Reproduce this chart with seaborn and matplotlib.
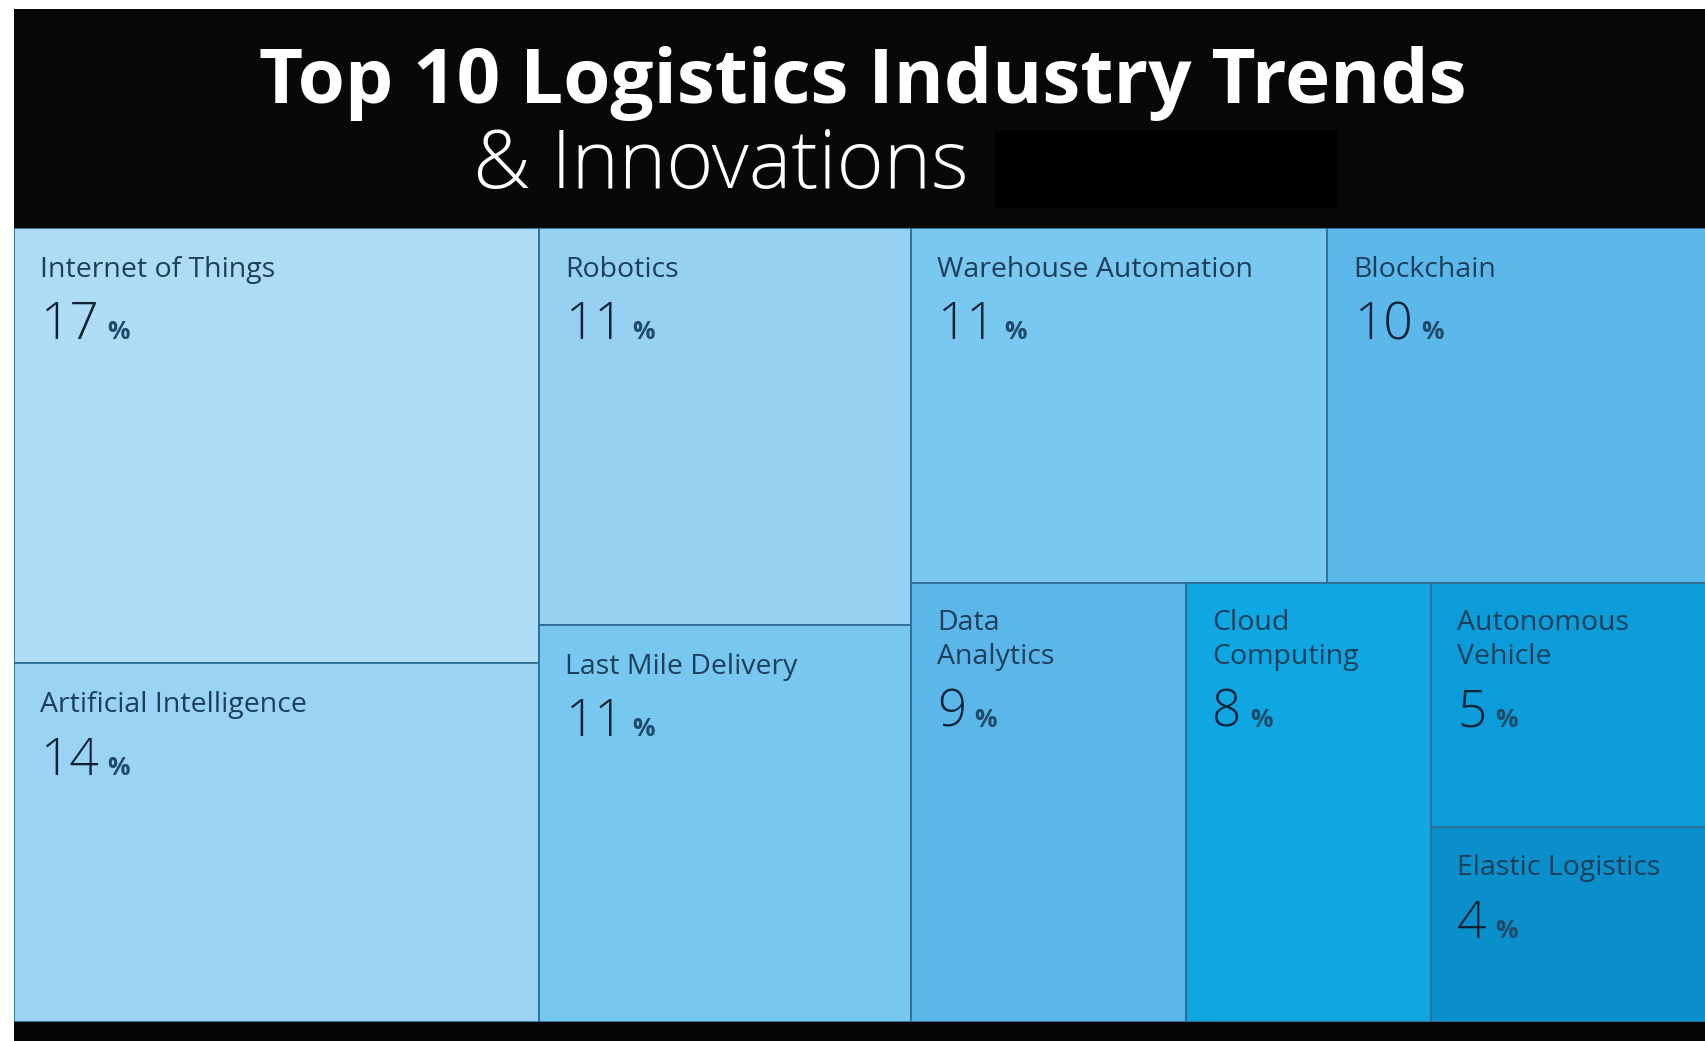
import matplotlib
matplotlib.use("Agg")
import matplotlib.pyplot as plt
import seaborn as sns

sns.set_theme(style="white")
plt.rcParams['font.family'] = ['Open Sans', 'DejaVu Sans']

# datos del treemap (porcentajes)
trends = ['Internet of Things', 'Artificial Intelligence', 'Robotics',
          'Last Mile Delivery', 'Warehouse Automation', 'Blockchain',
          'Data Analytics', 'Cloud Computing', 'Autonomous Vehicle',
          'Elastic Logistics']
labels = ['Internet of Things', 'Artificial Intelligence', 'Robotics',
          'Last Mile Delivery', 'Warehouse Automation', 'Blockchain',
          'Data\nAnalytics', 'Cloud\nComputing', 'Autonomous\nVehicle',
          'Elastic Logistics']
shares = [17, 14, 11, 11, 11, 10, 9, 8, 5, 4]
colors = ['#aedcf5', '#9ad3f3', '#96d1f2', '#78c7ef', '#79c8ef',
          '#5cb8ea', '#5bb7e9', '#0fa7e2', '#0c9cd9', '#0b8fca']

# estructura de particion (h = columnas, v = filas)
tree = ('h', [('v', ['Internet of Things', 'Artificial Intelligence']),
              ('v', ['Robotics', 'Last Mile Delivery']),
              ('v', [('h', ['Warehouse Automation', 'Blockchain']),
                     ('h', ['Data Analytics', 'Cloud Computing',
                            ('v', ['Autonomous Vehicle', 'Elastic Logistics'])])])])

valor = dict(zip(trends, shares))


def total(node):
    if isinstance(node, str):
        return valor[node]
    return sum(total(n) for n in node[1])


def slice_dice(node, x, y, w, h, out):
    if isinstance(node, str):
        out[node] = (x, y, w, h)
        return
    modo, hijos = node
    t = total(node)
    for hijo in hijos:
        f = total(hijo) / t
        if modo == 'h':
            slice_dice(hijo, x, y, w * f, h, out)
            x += w * f
        else:
            slice_dice(hijo, x, y, w, h * f, out)
            y += h * f


rects = {}
slice_dice(tree, 0, 0, 100, 100, rects)

fig = plt.figure(figsize=(17.06, 10.41), dpi=100)
fig.patch.set_facecolor('white')

# cabecera negra
ax_h = fig.add_axes([14 / 1706, (1041 - 228) / 1041, 1 - 14 / 1706, 219 / 1041])
ax_h.set_facecolor('#080808')
ax_h.set_xticks([])
ax_h.set_yticks([])
for s in ax_h.spines.values():
    s.set_visible(False)
fig.text(0.506, (1041 - 103) / 1041, 'Top 10 Logistics Industry Trends',
         color='white', fontsize=55, fontweight='bold', ha='center', va='baseline')
fig.text(473 / 1706, (1041 - 188) / 1041, '& Innovations',
         color='white', fontsize=58, fontweight='light', ha='left', va='baseline')
fig.patches.append(plt.Rectangle((995 / 1706, (1041 - 207) / 1041), 341 / 1706, 76 / 1041,
                                 transform=fig.transFigure, color='black', zorder=3))

# franja inferior
ax_b = fig.add_axes([14 / 1706, 0.0, 1 - 14 / 1706, 19 / 1041])
ax_b.set_facecolor('#050505')
ax_b.set_xticks([])
ax_b.set_yticks([])
for s in ax_b.spines.values():
    s.set_visible(False)

# treemap
ax = fig.add_axes([14 / 1706, 19 / 1041, 1 - 14 / 1706, 794 / 1041])
ax.set_xlim(0, 100)
ax.set_ylim(100, 0)
ax.set_xticks([])
ax.set_yticks([])
for s in ax.spines.values():
    s.set_visible(False)

for nombre, etiqueta, pct, col in zip(trends, labels, shares, colors):
    x0, y0, w, h = rects[nombre]
    ax.bar(x0, h, width=w, bottom=y0, align='edge', color=col,
           edgecolor='#2f6d93', linewidth=1.3)
    nlin = etiqueta.count('\n')
    ax.annotate(etiqueta, xy=(x0, y0), xytext=(19, -35 - 23.5 * nlin),
                textcoords='offset points', fontsize=20.5, color='#1d3f5c',
                va='baseline', ha='left', linespacing=1.3)
    num = ax.annotate(str(pct), xy=(x0, y0), xytext=(19, -80 - 23.5 * nlin),
                      textcoords='offset points', fontsize=37, fontweight='light',
                      color='#0f2235', va='baseline', ha='left')
    ax.annotate('%', xy=(1, y0), xycoords=(num, 'data'),
                xytext=(6, -80 - 23.5 * nlin), textcoords='offset points',
                fontsize=18, fontweight='bold', color='#1f4a6b',
                va='baseline', ha='left')

plt.savefig('out.png', dpi=100, facecolor=fig.get_facecolor())
